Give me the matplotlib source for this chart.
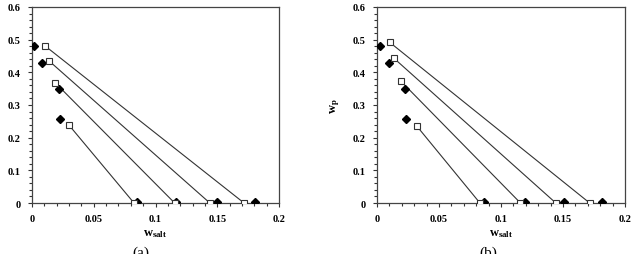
import matplotlib
matplotlib.use("Agg")
import matplotlib.pyplot as plt
from matplotlib.ticker import MultipleLocator, FuncFormatter

plt.rcParams["font.family"] = ["Liberation Serif", "DejaVu Serif"]
plt.rcParams["mathtext.fontset"] = "custom"
plt.rcParams["mathtext.rm"] = "Liberation Serif:bold"
plt.rcParams["mathtext.bf"] = "Liberation Serif:bold"
plt.rcParams["mathtext.it"] = "Liberation Serif:bold"

# panel (a): tie-line end points (open squares)
a_top_x = [0.0102, 0.0135, 0.0188, 0.0296]
a_top_y = [0.482, 0.436, 0.368, 0.240]
a_bot_x = [0.1717, 0.1440, 0.1155, 0.0826]
a_bot_y = [0.0, 0.0, 0.0, 0.0]
# panel (a): filled diamonds
a_dia_x = [0.0013, 0.0080, 0.0215, 0.0223, 0.0848, 0.1170, 0.1500, 0.1806]
a_dia_y = [0.480, 0.429, 0.350, 0.258, 0.003, 0.003, 0.003, 0.003]

# panel (b)
b_top_x = [0.0102, 0.0134, 0.0190, 0.0322]
b_top_y = [0.492, 0.444, 0.374, 0.235]
b_bot_x = [0.1715, 0.1442, 0.1157, 0.0830]
b_bot_y = [0.0, 0.0, 0.0, 0.0]
b_dia_x = [0.0021, 0.0094, 0.0225, 0.0233, 0.0862, 0.1190, 0.1510, 0.1817]
b_dia_y = [0.481, 0.430, 0.350, 0.258, 0.003, 0.003, 0.003, 0.003]

x_ticks = [0, 0.05, 0.1, 0.15, 0.2]
y_ticks = [0, 0.1, 0.2, 0.3, 0.4, 0.5, 0.6]


def fmt(v, _pos):
    return f"{v:g}"


def draw_panel(ax, top_x, top_y, bot_x, bot_y, dia_x, dia_y, tag, tag_x):
    for x0, y0, x1, y1 in zip(top_x, top_y, bot_x, bot_y):
        ax.plot([x0, x1], [y0, y1], color="#333333", linewidth=0.8, zorder=2)
    ax.plot(dia_x, dia_y, "D", color="black", markersize=3.8, zorder=3)
    ax.plot(top_x + bot_x, top_y + bot_y, "s", markerfacecolor="white",
            markeredgecolor="#333333", markeredgewidth=0.8, markersize=3.8,
            linestyle="none", zorder=4)

    ax.set_xlim(0, 0.2)
    ax.set_ylim(0, 0.6)
    ax.set_xticks(x_ticks)
    ax.set_yticks(y_ticks)
    ax.xaxis.set_minor_locator(MultipleLocator(0.01))
    ax.yaxis.set_minor_locator(MultipleLocator(0.02))
    ax.xaxis.set_major_formatter(FuncFormatter(fmt))
    ax.yaxis.set_major_formatter(FuncFormatter(fmt))
    ax.tick_params(which="both", direction="out", top=False, right=False,
                   color="#333333", width=0.8)
    ax.tick_params(which="major", length=3, labelsize=7.5, pad=5)
    ax.tick_params(which="minor", length=2)
    for lab in ax.get_xticklabels() + ax.get_yticklabels():
        lab.set_fontweight("bold")
    for sp in ax.spines.values():
        sp.set_color("#444444")
        sp.set_linewidth(0.9)

    ax.set_xlabel(r"$\mathbf{w}_{\mathbf{salt}}$", fontsize=9, labelpad=3)
    ax.set_ylabel(r"$\mathbf{w}_{\mathbf{p}}$", fontsize=9, labelpad=8)
    ax.text(tag_x, -0.215, tag, transform=ax.transAxes, ha="center",
            va="top", fontsize=11)


fig = plt.figure(figsize=(6.33, 2.55), dpi=100)
ax_a = fig.add_axes([32 / 633, 1 - 204 / 255, 247 / 633, 196 / 255])
ax_b = fig.add_axes([377 / 633, 1 - 204 / 255, 248 / 633, 196 / 255])

draw_panel(ax_a, a_top_x, a_top_y, a_bot_x, a_bot_y, a_dia_x, a_dia_y, "(a)", 0.44)
draw_panel(ax_b, b_top_x, b_top_y, b_bot_x, b_bot_y, b_dia_x, b_dia_y, "(b)", 0.448)

fig.savefig("out.png", dpi=100)
